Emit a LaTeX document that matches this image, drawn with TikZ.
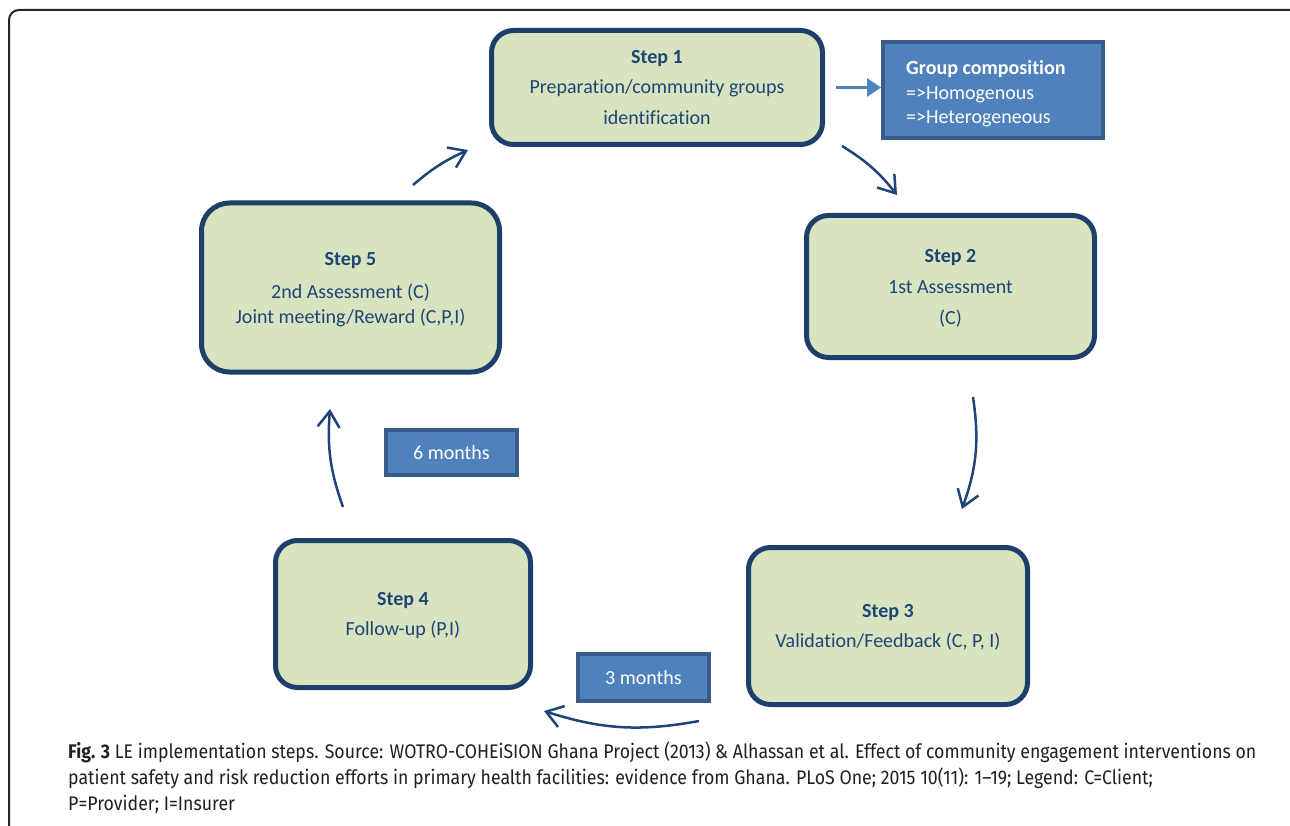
\documentclass[tikz,border=0pt]{standalone}
\usepackage{fontspec}
\setmainfont[Ligatures=NoCommon]{Carlito}
\newfontfamily\capfont[FakeStretch=0.9]{Fira Sans}
\usetikzlibrary{arrows.meta,positioning}
\definecolor{stepfill}{HTML}{D8E4BF}
\definecolor{stepline}{HTML}{1F3F6B}
\definecolor{steptext}{HTML}{1F4476}
\definecolor{boxfill}{HTML}{4F81BD}
\definecolor{boxline}{HTML}{385D8A}
\definecolor{captext}{HTML}{231F20}

\tikzset{
  stepbox/.style={draw=stepline, fill=stepfill, line width=5pt, rounded corners=22pt,
    text=steptext, align=center, inner sep=0pt, text depth=-1pt, font=\fontsize{20}{30.5}\selectfont},
  bluebox/.style={draw=boxline, fill=boxfill, line width=4pt, text=white,
    inner sep=0pt, font=\fontsize{20}{24.5}\selectfont},
  cycarrow/.style={draw=steptext, line width=2.5pt, -{Straight Barb[length=16pt,width=22pt]}},
  capline/.style={anchor=base west, inner sep=0pt, text=captext, font=\capfont\fontsize{19.7}{22}\selectfont},
}

\begin{document}
\begin{tikzpicture}[x=1pt,y=-1pt]
		\useasboundingbox (0,0) rectangle (1290,826);
		
		% frame (only top and left edges show)
		\draw[line width=2pt, rounded corners=10pt, black!85] (1300,10) -- (9,10) -- (9,850);
		
		% steps
		\node[stepbox, minimum width=331pt, minimum height=114pt, text depth=1pt] (s1) at (657,87.5) {\textbf{Step 1}\\Preparation/community groups\\identification};
		\node[stepbox, minimum width=288pt, minimum height=142pt, font=\fontsize{20}{31}\selectfont] (s2) at (950.5,286.5) {\textbf{Step 2}\\1st Assessment\\(C)};
		\node[stepbox, minimum width=279pt, minimum height=157pt] (s3) at (888,626) {\textbf{Step 3}\\Validation/Feedback (C, P, I)};
		\node[stepbox, minimum width=255pt, minimum height=147pt] (s4) at (403,614) {\textbf{Step 4}\\Follow-up (P,I)};
		\node[stepbox, minimum width=298pt, minimum height=169pt, rounded corners=28pt, text depth=-2pt] (s5) at (350.5,287.5) {\textbf{Step 5}\\[3pt]2nd Assessment (C)\\[-6pt]Joint meeting/Reward (C,P,I)};
		
		% blue boxes
		\node[bluebox, minimum width=220pt, minimum height=96pt] (grp) at (993,90) {};
		\node[anchor=west, align=left, inner sep=0pt, text=white, font=\fontsize{20}{24.5}\selectfont] (grptext) at ([xshift=25pt,yshift=-4pt]grp.west) {\textbf{Group composition}\\=>Homogenous\\=>Heterogeneous};
		\node[bluebox, minimum width=131pt, minimum height=45pt] (m6) at (451.5,452.5) {6 months};
		\node[bluebox, minimum width=131pt, minimum height=47pt] (m3) at (643.5,677.5) {3 months};
		
		\draw[line width=3pt, draw=boxfill, -{Triangle[length=14pt,width=18pt]}, shorten <=11pt] (s1.east) -- (s1.east -| grp.west);
		
		% cycle arrows
		\coordinate (a12s) at (842,146);
		\coordinate (a12e) at (897,195);
		\coordinate (a23s) at (973,397);
		\coordinate (a23e) at (962,509);
		\coordinate (a34s) at (699,721);
		\coordinate (a34e) at (544,711);
		\coordinate (a45s) at (343,507);
		\coordinate (a45e) at (330,409);
		\coordinate (a51s) at (413,185);
		\coordinate (a51e) at (468,150);
		\draw[cycarrow] (a12s) to[bend left=10] (a12e);
		\draw[cycarrow] (a23s) to[bend left=14] (a23e);
		\draw[cycarrow] (a34s) to[bend left=14] (a34e);
		\draw[cycarrow] (a45s) to[bend left=12] (a45e);
		\draw[cycarrow] (a51s) to[bend left=8] (a51e);
		
		% caption
		\node[capline] (cap1) at (68,758) {\textbf{Fig. 3} LE implementation steps. Source: WOTRO-COHEiSION Ghana Project (2013) \& Alhassan et al. Effect of community engagement interventions on};
		\node[capline] (cap2) at (68,784) {patient safety and risk reduction efforts in primary health facilities: evidence from Ghana. PLoS One; 2015 10(11): 1–19; Legend: C=Client;};
		\node[capline] (cap3) at (68,810) {P=Provider; I=Insurer};
		
\end{tikzpicture}
\end{document}
